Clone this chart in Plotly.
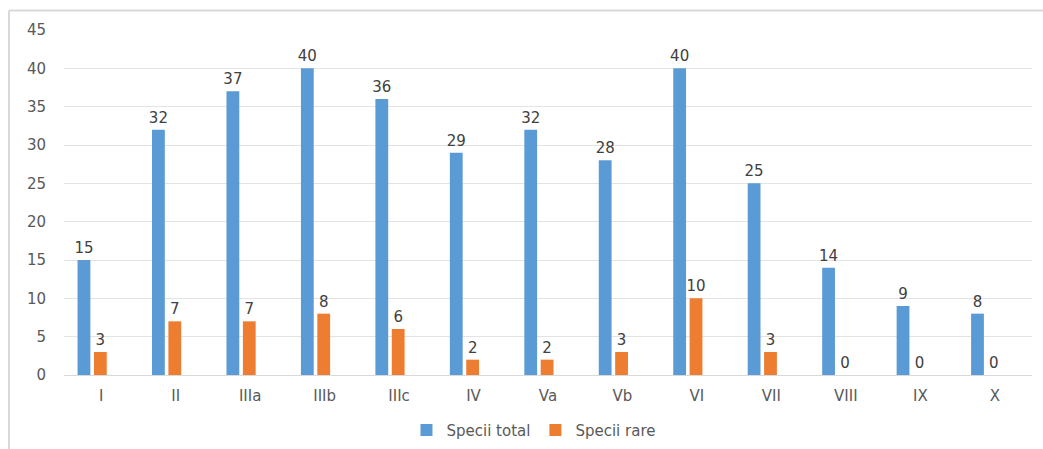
import plotly.graph_objects as go

categories = ["I", "II", "IIIa", "IIIb", "IIIc", "IV", "Va", "Vb", "VI", "VII", "VIII", "IX", "X"]
specii_total = [15, 32, 37, 40, 36, 29, 32, 28, 40, 25, 14, 9, 8]
specii_rare = [3, 7, 7, 8, 6, 2, 2, 3, 10, 3, 0, 0, 0]

W, H = 1043, 449
L, R, T, B = 64, 11, 30, 74
pw, ph = W - L - R, H - T - B

font_family = "DejaVu Sans, Verdana, sans-serif"
label_font = dict(size=15, color="#404040", family=font_family)

# bars sit in the first two of three slots per category
bar_w = 0.172
fig = go.Figure()
fig.add_trace(go.Bar(
    name="Specii total", x=categories, y=specii_total,
    width=bar_w, offset=-0.318,
    marker=dict(color="#5B9BD5", line=dict(width=0)),
    text=specii_total, textposition="outside", cliponaxis=False,
    textfont=label_font, constraintext="none",
))
fig.add_trace(go.Bar(
    name="Specii rare", x=categories, y=specii_rare,
    width=bar_w, offset=-0.098,
    marker=dict(color="#ED7D31", line=dict(width=0)),
    text=specii_rare, textposition="outside", cliponaxis=False,
    textfont=label_font, constraintext="none",
))

# chart frame: left and top edges only
fx0 = (9 - L) / pw
fy_top = 1 + (T - 10.5) / ph
fy_bot = -(B + 2) / ph
fx1 = (W + 2 - L) / pw
fig.add_shape(type="line", xref="paper", yref="paper", x0=fx0, x1=fx0, y0=fy_bot, y1=fy_top,
              line=dict(color="#d9d9d9", width=2))
fig.add_shape(type="line", xref="paper", yref="paper", x0=fx0, x1=fx1, y0=fy_top, y1=fy_top,
              line=dict(color="#d9d9d9", width=2))

fig.update_layout(
    width=W, height=H,
    margin=dict(l=L, r=R, t=T, b=B, autoexpand=False),
    paper_bgcolor="white", plot_bgcolor="white",
    barmode="overlay",
    uniformtext=dict(mode=False),
    font=dict(family=font_family, size=15, color="#595959"),
    showlegend=True,
    legend=dict(orientation="h", x=0.485, xanchor="center", y=-0.16, yanchor="middle",
                font=dict(size=15, color="#595959"), itemwidth=30),
    xaxis=dict(showgrid=False, showline=False, ticks="", tickfont=dict(size=15, color="#595959"),
               ticklabelstandoff=10),
    yaxis=dict(range=[0, 45], dtick=5, showgrid=True, gridcolor="#e3e3e3", gridwidth=1,
               zeroline=True, zerolinecolor="#d9d9d9", zerolinewidth=1,
               showline=False, ticks="", tickfont=dict(size=15, color="#595959"),
               ticklabelstandoff=17),
)

fig.write_html("out.html")
